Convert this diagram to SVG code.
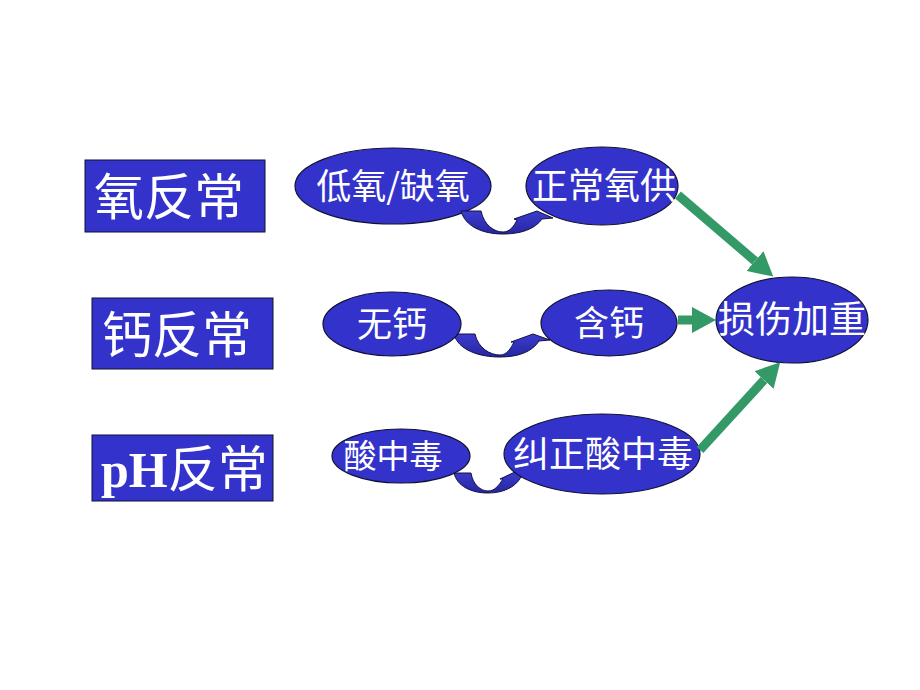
<svg xmlns="http://www.w3.org/2000/svg" width="920" height="690" viewBox="0 0 920 690">
  <style>
    .box { fill: #3333cc; stroke: #111133; stroke-width: 1; }
    .ell { fill: #3333cc; stroke: #111133; stroke-width: 1.2; }
    .curv { fill: url(#cg); stroke: #111144; stroke-width: 1; }
    .big { fill: #ffffff; font-family: "Noto Sans CJK SC", sans-serif; font-size: 50px; }
    .lbl { fill: #ffffff; font-family: "Noto Sans CJK SC", sans-serif; font-size: 35px; text-anchor: middle; }
    .ph { font-family: "Liberation Serif", serif; font-weight: bold; }
    .garrow { stroke: #339966; stroke-width: 9; fill: none; marker-end: url(#gh); }
  </style>
  <defs>
    <linearGradient id="cg" x1="0" y1="0" x2="0" y2="1">
      <stop offset="0" stop-color="#3c3cd0"/>
      <stop offset="1" stop-color="#2626a0"/>
    </linearGradient>
    <marker id="gh" markerUnits="userSpaceOnUse" markerWidth="24" markerHeight="26" viewBox="0 0 24 26" refX="0" refY="13" orient="auto">
      <path d="M0,0 L24,13 L0,26 Z" fill="#339966"/>
    </marker>
  </defs>
  <rect width="920" height="690" fill="#ffffff"/>

  <!-- left category boxes -->
  <g id="box-oxygen">
    <rect class="box" x="85" y="160" width="180" height="72"/>
    <text class="big" x="94" y="215">氧反常</text>
  </g>
  <g id="box-calcium">
    <rect class="box" x="92" y="298" width="181" height="71"/>
    <text class="big" x="102" y="353">钙反常</text>
  </g>
  <g id="box-ph">
    <rect class="box" x="92" y="435" width="181" height="66"/>
    <text class="big" x="101" y="487"><tspan class="ph">pH</tspan>反常</text>
  </g>

  <!-- row 1 -->
  <g id="node-hypoxia">
    <ellipse class="ell" cx="393" cy="186" rx="98" ry="38"/>
    <text class="lbl" x="393" y="199">低氧/缺氧</text>
  </g>
  <g id="connectors-curved">
    <path class="curv" d="M461,211 L481,211 C484,225 494,232 503,232 C510,232 514,226 517,220 L514,219 L537,211 L553,218 L542,219 C535,229 521,234 503,234 C482,234 465,226 461,211 Z"/>
    <path class="curv" d="M454,334 L475,334 C478,348 490,355 500,355 C507,355 511,348 514,342 L511,342 L533,334 L550,340 L539,341 C532,352 518,357 500,357 C479,357 458,350 454,334 Z"/>
    <path class="curv" d="M454,473 L471,473 C473,485 481,491 488,491 C495,491 499,485 503,479 L500,479 L517,471 L530,476 L521,477 C515,488 502,493 488,493 C471,493 457,486 454,473 Z"/>
  </g>
  <g id="node-normal-oxygen">
    <ellipse class="ell" cx="602" cy="186" rx="76" ry="39"/>
    <text class="lbl" x="604" y="199" style="font-size:36px">正常氧供</text>
  </g>

  <!-- row 2 -->
  <g id="node-no-calcium">
    <ellipse class="ell" cx="392" cy="324" rx="69" ry="32"/>
    <text class="lbl" x="392" y="337">无钙</text>
  </g>
  <g id="node-calcium">
    <ellipse class="ell" cx="609" cy="323" rx="68" ry="33"/>
    <text class="lbl" x="609" y="336">含钙</text>
  </g>

  <!-- row 3 -->
  <g id="node-acidosis">
    <ellipse class="ell" cx="401" cy="456" rx="69" ry="27"/>
    <text class="lbl" x="393" y="468" style="font-size:33px">酸中毒</text>
  </g>
  <g id="node-correct-acidosis">
    <ellipse class="ell" cx="602" cy="454" rx="98" ry="40"/>
    <text class="lbl" x="603" y="467" style="font-size:36px">纠正酸中毒</text>
  </g>

  <!-- result -->
  <g id="node-injury">
    <ellipse class="ell" cx="792" cy="320" rx="76" ry="43"/>
    <text class="lbl" x="792" y="333" style="font-size:37px">损伤加重</text>
  </g>

  <!-- green connectors -->
  <g id="connectors-green">
    <line class="garrow" x1="678" y1="195" x2="755" y2="261"/>
    <line class="garrow" x1="678" y1="320" x2="692" y2="320"/>
    <line class="garrow" x1="700" y1="450" x2="764" y2="380"/>
  </g>
</svg>
